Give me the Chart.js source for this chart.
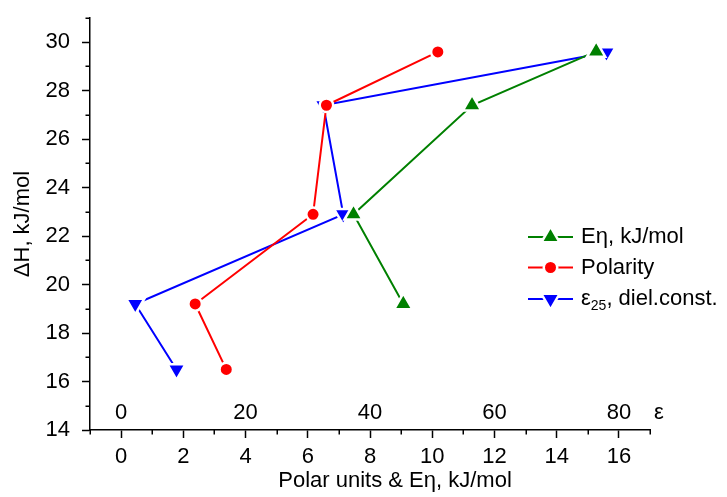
<!DOCTYPE html>
<html><head><meta charset="utf-8">
<script src="https://cdn.jsdelivr.net/npm/chart.js@4"></script>
<style>html,body{margin:0;padding:0;background:#fff}#wrap{width:727px;height:497px;position:relative}</style>
</head><body><div id="wrap"><canvas id="c"></canvas></div>
<script>
// ---- data ----
const etaX = [9.07, 7.47, 11.28, 15.27];          // Eη, kJ/mol
const etaY = [19.2, 22.9, 27.4, 29.62];
const polX = [3.38, 2.38, 6.17, 6.6, 10.18];      // Polarity
const polY = [16.5, 19.2, 22.9, 27.4, 29.6];
const epsX = [8.9, 2.27, 35.7, 32.5, 78.0];       // ε25 dielectric constant
const epsY = [16.5, 19.2, 22.9, 27.4, 29.58];
const xTickLabels = [0, 2, 4, 6, 8, 10, 12, 14, 16];
const yTickLabels = [14, 16, 18, 20, 22, 24, 26, 28, 30];
const epsTickLabels = [0, 20, 40, 60, 80];
const seriesNames = ['Eη, kJ/mol', 'Polarity', 'ε25, diel.const.'];

const FONT = "'Liberation Sans', Arial, sans-serif";
const FS = 22;
Chart.defaults.font.family = FONT;
Chart.defaults.font.size = FS;
Chart.defaults.color = '#000';

const toPts = (xs, ys) => xs.map((x, i) => ({x: x, y: ys[i]}));

const extras = {
  id: 'extras',
  afterDraw(chart) {
    const ctx = chart.ctx, xs = chart.scales.x, ys = chart.scales.y, xe = chart.scales.xe;
    const ca = chart.chartArea;
    ctx.save();
    // minor ticks
    ctx.strokeStyle = '#000'; ctx.lineWidth = 1.5;
    ctx.beginPath();
    for (let v = -1; v <= 17; v += 2) {
      const px = Math.round(xs.getPixelForValue(v)) + 0.25;
      ctx.moveTo(px, ca.bottom); ctx.lineTo(px, ca.bottom + 4.5);
    }
    for (let v = 15; v <= 31; v += 2) {
      const py = Math.round(ys.getPixelForValue(v)) + 0.25;
      ctx.moveTo(ca.left, py); ctx.lineTo(ca.left - 4.5, py);
    }
    ctx.stroke();
    // inner ε scale labels
    ctx.fillStyle = '#000';
    ctx.font = FS + 'px ' + FONT;
    ctx.textAlign = 'center'; ctx.textBaseline = 'alphabetic';
    epsTickLabels.forEach(v => ctx.fillText(String(v), xe.getPixelForValue(v), 419));
    ctx.fillText('ε', xe.getPixelForValue(80) + 40, 419);
    // x axis title
    ctx.fillText('Polar units & Eη, kJ/mol', 395, 487);
    // legend
    const rows = [237, 267.5, 299];
    chart.data.datasets.forEach((ds, i) => {
      const y = rows[i];
      ctx.strokeStyle = ds.borderColor; ctx.lineWidth = 2;
      ctx.beginPath(); ctx.moveTo(528, y); ctx.lineTo(573, y); ctx.stroke();
      ctx.fillStyle = ds.pointBackgroundColor; ctx.strokeStyle = '#fff';
      ctx.lineWidth = ds.pointBorderWidth;
      Chart.helpers.drawPoint(ctx, {
        pointStyle: ds.pointStyle, rotation: ds.pointRotation || 0,
        radius: ds.pointRadius, borderWidth: ds.pointBorderWidth
      }, 550.5, y);
    });
    ctx.textAlign = 'left'; ctx.textBaseline = 'middle'; ctx.fillStyle = '#000';
    ctx.font = FS + 'px ' + FONT;
    ctx.fillText(seriesNames[0], 581, rows[0]);
    ctx.fillText(seriesNames[1], 581, rows[1]);
    let x = 581;
    ctx.fillText('ε', x, rows[2]); x += ctx.measureText('ε').width;
    ctx.font = '14px ' + FONT;
    ctx.fillText('25', x, rows[2] + 7); x += ctx.measureText('25').width;
    ctx.font = FS + 'px ' + FONT;
    ctx.fillText(', diel.const.', x, rows[2]);
    ctx.restore();
  }
};

const common = {
  showLine: true, borderWidth: 2, pointBorderColor: '#fff', pointBorderWidth: 2.5,
  pointHoverRadius: 0, fill: false, tension: 0
};

new Chart(document.getElementById('c'), {
  type: 'scatter',
  data: {
    datasets: [
      Object.assign({}, common, {label: seriesNames[0], data: toPts(etaX, etaY),
        borderColor: '#008000', pointBackgroundColor: '#008000', pointStyle: 'triangle', pointRadius: 10.5, xAxisID: 'x'}),
      Object.assign({}, common, {label: seriesNames[1], data: toPts(polX, polY),
        borderColor: '#ff0000', pointBackgroundColor: '#ff0000', pointStyle: 'circle', pointRadius: 6.75, xAxisID: 'x'}),
      Object.assign({}, common, {label: seriesNames[2], data: toPts(epsX, epsY),
        borderColor: '#0000ff', pointBackgroundColor: '#0000ff', pointStyle: 'triangle', pointRotation: 180, pointRadius: 10.5, xAxisID: 'xe'})
    ]
  },
  options: {
    responsive: true, maintainAspectRatio: false, animation: false,
    layout: {padding: {left: 0, top: 18, right: 77, bottom: 0}},
    plugins: {legend: {display: false}, tooltip: {enabled: false}},
    scales: {
      x: {
        type: 'linear', position: 'bottom', min: -1, max: 17,
        afterFit: s => { s.height = 67; s.paddingLeft = 0; s.paddingRight = 0; },
        border: {display: true, color: '#000', width: 1.5},
        grid: {drawOnChartArea: false, tickLength: 8, tickWidth: 1.5,
          tickColor: c => (xTickLabels.includes(c.tick.value) ? '#000' : 'rgba(0,0,0,0)')},
        ticks: {stepSize: 1, autoSkip: false, maxRotation: 0, padding: 6,
          callback: v => (xTickLabels.includes(v) ? String(v) : '')}
      },
      xe: {
        type: 'linear', display: false, min: -5, max: 85
      },
      y: {
        type: 'linear', position: 'left', min: 14, max: 31,
        afterFit: s => { s.width = 90; s.paddingTop = 0; s.paddingBottom = 0; },
        border: {display: true, color: '#000', width: 1.5},
        grid: {drawOnChartArea: false, tickLength: 8, tickWidth: 1.5,
          tickColor: c => (yTickLabels.includes(c.tick.value) ? '#000' : 'rgba(0,0,0,0)')},
        ticks: {stepSize: 1, autoSkip: false, padding: 12,
          callback: v => (yTickLabels.includes(v) ? String(v) : '')},
        title: {display: true, text: 'ΔH, kJ/mol', padding: {top: 10, bottom: 0}, font: {size: FS}}
      }
    }
  },
  plugins: [extras]
});
</script>
</body></html>
